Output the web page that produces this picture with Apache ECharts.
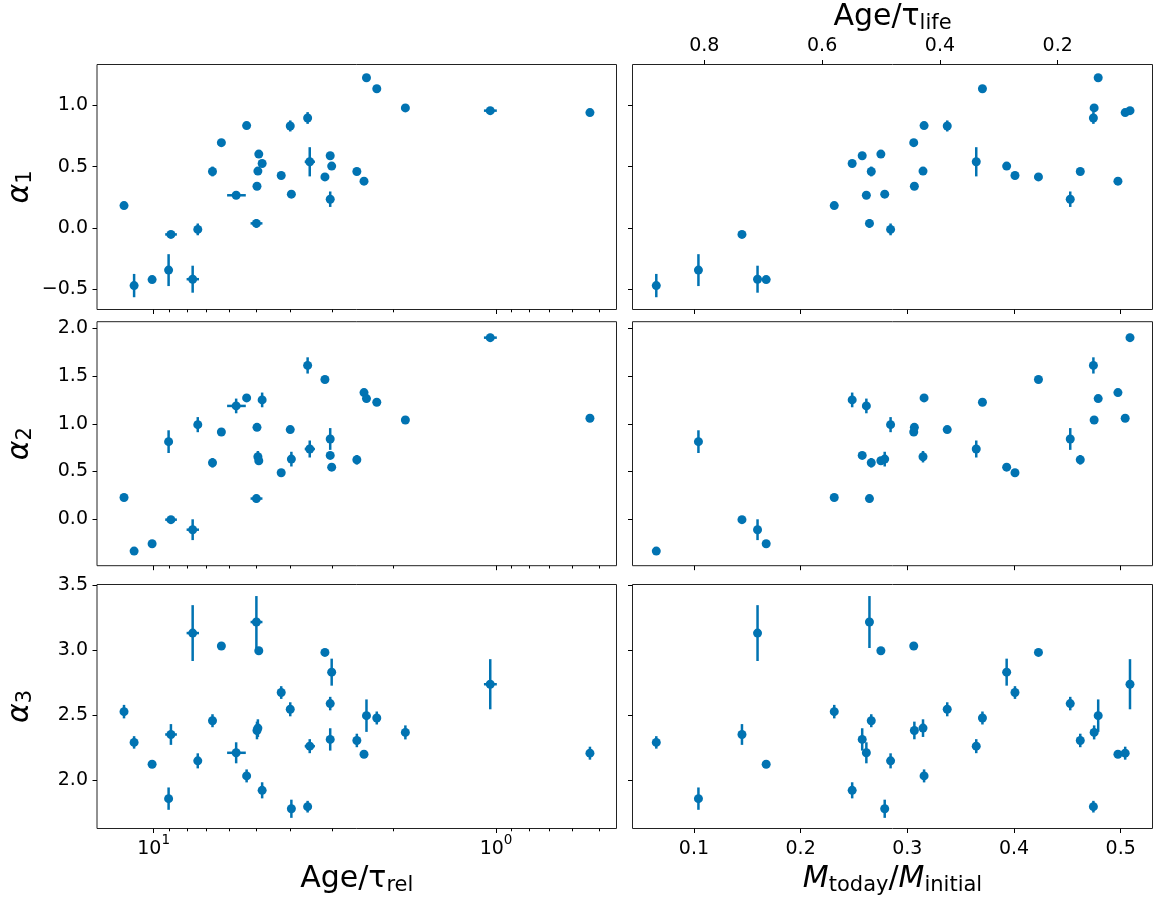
<!DOCTYPE html>
<html>
<head>
<meta charset="utf-8">
<script src="https://cdn.jsdelivr.net/npm/echarts@6/dist/echarts.min.js"></script>
<style>
html, body { margin: 0; padding: 0; background: #fff; }
#chart { width: 1157px; height: 897px; }
</style>
</head>
<body>
<div id="chart"></div>
<script>
// one entry per cluster, same order in every array
var ageRel = [12.2, 11.4, 10.1, 9.04, 8.9, 7.69, 7.43, 6.73, 6.34, 5.74, 5.35, 5.01, 4.99, 4.96, 4.93, 4.82,
	4.24, 3.99, 3.96, 3.55, 3.50, 3.16, 3.05, 3.05, 3.02, 2.55, 2.43, 2.39, 2.23, 1.84, 1.04, 0.532];
var ageRelErr = [0, 0, 0, 0, 0.35, 0.32, 0, 0, 0, 0.36, 0, 0.2, 0, 0, 0, 0,
	0, 0, 0, 0, 0.12, 0, 0, 0, 0, 0, 0, 0, 0, 0, 0.045, 0];
var mRatio = [0.2315, 0.0647, 0.1677, 0.1042, 0.145, 0.1596, 0.2843, 0.2662, 0.306, 0.2616, 0.3157, 0.2645, 0.3066, 0.3147, 0.2752, 0.2483,
	0.4009, 0.3374, 0.2788, 0.4744, 0.3646, 0.4229, 0.2577, 0.4527, 0.3931, 0.4621, 0.4974, 0.4789, 0.3704, 0.4751, 0.5087, 0.5042];

var alpha1 = [0.182, -0.470, -0.421, -0.344, -0.053, -0.418, -0.012, 0.460, 0.695, 0.266, 0.834, 0.037, 0.340, 0.463, 0.602, 0.525,
	0.427, 0.831, 0.275, 0.896, 0.539, 0.416, 0.588, 0.234, 0.504, 0.460, 0.381, 1.224, 1.134, 0.978, 0.956, 0.940];
var alpha1Err = [0.01, 0.095, 0.01, 0.13, 0.01, 0.11, 0.048, 0.04, 0.01, 0.02, 0.01, 0.035, 0.01, 0.02, 0.01, 0.01,
	0.01, 0.045, 0.01, 0.048, 0.119, 0.01, 0.01, 0.063, 0.01, 0.02, 0.01, 0.01, 0.01, 0.01, 0.015, 0.01];

var alpha2 = [0.228, -0.333, -0.256, 0.813, -0.004, -0.109, 0.991, 0.592, 0.914, 1.187, 1.271, 0.217, 0.963, 0.655, 0.613, 1.250,
	0.487, 0.939, 0.630, 1.611, 0.736, 1.464, 0.669, 0.841, 0.546, 0.623, 1.327, 1.264, 1.226, 1.040, 1.902, 1.058];
var alpha2Err = [0.01, 0.02, 0.01, 0.119, 0.02, 0.109, 0.079, 0.05, 0.01, 0.077, 0.01, 0.04, 0.02, 0.06, 0.01, 0.077,
	0.01, 0.03, 0.077, 0.085, 0.089, 0.01, 0.01, 0.114, 0.01, 0.05, 0.02, 0.01, 0.02, 0.01, 0.04, 0.01];

var alpha3 = [2.526, 2.289, 2.121, 1.856, 2.350, 3.131, 2.147, 2.456, 3.031, 2.209, 2.031, 3.216, 2.381, 2.399, 2.995, 1.920,
	2.673, 2.544, 1.778, 1.794, 2.260, 2.982, 2.312, 2.588, 2.830, 2.304, 2.198, 2.495, 2.477, 2.366, 2.737, 2.206];
var alpha3Err = [0.052, 0.048, 0.02, 0.086, 0.08, 0.215, 0.058, 0.05, 0.01, 0.081, 0.05, 0.2, 0.068, 0.068, 0.01, 0.062,
	0.049, 0.054, 0.07, 0.045, 0.054, 0.01, 0.086, 0.052, 0.104, 0.052, 0.02, 0.125, 0.05, 0.054, 0.193, 0.05];

// tick labels
var leftMajorTicks = [10, 1];
var leftMinorTicks = [9, 8, 7, 6, 5, 4, 3, 2, 0.9, 0.8, 0.7, 0.6, 0.5];
var mTicks = [0.1, 0.2, 0.3, 0.4, 0.5];
var lifeTicks = [0.8, 0.6, 0.4, 0.2];
var alpha1Ticks = [-0.5, 0, 0.5, 1];
var alpha2Ticks = [0, 0.5, 1, 1.5, 2];
var alpha3Ticks = [2, 2.5, 3, 3.5];

var blue = '#0173b2';
var font = 'DejaVu Sans';
var ink = '#000';

var rows = [
	{ top: 64.5, height: 245, y: alpha1, yErr: alpha1Err, min: -0.665, max: 1.332, ticks: alpha1Ticks, sub: '1' },
	{ top: 321.7, height: 244, y: alpha2, yErr: alpha2Err, min: -0.486, max: 2.069, ticks: alpha2Ticks, sub: '2' },
	{ top: 584.5, height: 244, y: alpha3, yErr: alpha3Err, min: 1.626, max: 3.505, ticks: alpha3Ticks, sub: '3' }
];

var subStyle = { fontFamily: font, fontSize: 21, lineHeight: 22, padding: [12, 0, 0, 0], color: ink };
var bigStyle = { fontFamily: font, fontSize: 30, lineHeight: 34, color: ink };
var mathStyle = { fontFamily: font, fontSize: 30, lineHeight: 34, fontStyle: 'italic', color: ink };
var nameRich = { n: bigStyle, m: mathStyle, s: subStyle };

var tickLine = { color: ink, width: 1 };
var noLine = { show: false, onZero: false };

function fmtTick(v) {
	return (Math.round(v * 10) / 10).toFixed(1).replace('-', '\u2212');
}

function errRender(params, api) {
	var x = api.value(0), y = api.value(1);
	var lo = api.coord([x, api.value(2)]);
	var hi = api.coord([x, api.value(3)]);
	var style = { stroke: blue, lineWidth: 2.5 };
	var kids = [{ type: 'line', shape: { x1: lo[0], y1: lo[1], x2: hi[0], y2: hi[1] }, style: style }];
	if (api.value(4) !== api.value(5)) {
		var l = api.coord([api.value(4), y]);
		var r = api.coord([api.value(5), y]);
		kids.push({ type: 'line', shape: { x1: l[0], y1: l[1], x2: r[0], y2: r[1] }, style: style });
	}
	return { type: 'group', children: kids };
}

function addPanel(series, xi, yi, xs, xErr, ys, yErr) {
	var errData = [], dots = [];
	for (var i = 0; i < xs.length; i++) {
		var xe = xErr ? xErr[i] : 0;
		errData.push([xs[i], ys[i], ys[i] - yErr[i], ys[i] + yErr[i], xs[i] - xe, xs[i] + xe]);
		dots.push([xs[i], ys[i]]);
	}
	series.push({
		type: 'custom', xAxisIndex: xi, yAxisIndex: yi, renderItem: errRender,
		encode: { x: [0, 4, 5], y: [1, 2, 3] }, data: errData, z: 2, silent: true
	});
	series.push({
		type: 'scatter', xAxisIndex: xi, yAxisIndex: yi, data: dots, symbol: 'circle', symbolSize: 9,
		itemStyle: { color: blue, opacity: 1 }, z: 3, silent: true
	});
}

var grid = [], xAxis = [], yAxis = [], series = [];

rows.forEach(function (row, r) {
	var last = r === rows.length - 1;

	// left column: Age / tau_rel, log scale, decreasing
	var gl = grid.length;
	grid.push({ left: 97, top: row.top, width: 519.5, height: row.height, show: true, borderColor: '#222', borderWidth: 1, outerBoundsMode: 'none' });
	var xMajor = xAxis.length;
	xAxis.push({
		type: 'log', logBase: 10, gridIndex: gl, position: 'bottom', min: 0.445, max: 14.63, inverse: true,
		axisLine: noLine, splitLine: { show: false },
		axisTick: { customValues: leftMajorTicks, length: 4.5, lineStyle: tickLine },
		axisLabel: {
			show: last, customValues: leftMajorTicks, margin: 20.5, verticalAlign: 'middle',
			formatter: function (v) { return '{b|10}{p|' + Math.round(Math.log10(v)) + '}'; },
			rich: {
				b: { fontFamily: font, fontSize: 19, lineHeight: 22, color: ink },
				p: { fontFamily: font, fontSize: 13.5, lineHeight: 14, padding: [0, 0, 18, 0], color: ink }
			}
		},
		name: last ? '{n|Age/\u03c4}{s|rel}' : '', nameLocation: 'middle', nameGap: 34, nameMoveOverlap: false,
		nameTextStyle: { rich: nameRich }
	});
	xAxis.push({
		type: 'log', logBase: 10, gridIndex: gl, position: 'bottom', min: 0.445, max: 14.63, inverse: true,
		axisLine: noLine, splitLine: { show: false },
		axisTick: { customValues: leftMinorTicks, length: 2.8, lineStyle: tickLine },
		axisLabel: { show: false }
	});
	var yl = yAxis.length;
	yAxis.push({
		type: 'value', gridIndex: gl, position: 'left', min: row.min, max: row.max,
		axisLine: noLine, splitLine: { show: false },
		axisTick: { customValues: row.ticks, length: 4.5, lineStyle: tickLine },
		axisLabel: { customValues: row.ticks, formatter: fmtTick, margin: 9, fontFamily: font, fontSize: 19, color: ink },
		name: '{a|\u03b1}{s|' + row.sub + '}', nameLocation: 'middle', nameRotate: 90, nameGap: 60, nameMoveOverlap: false,
		nameTextStyle: { rich: { a: mathStyle, s: subStyle } }
	});
	addPanel(series, xMajor, yl, ageRel, ageRelErr, row.y, row.yErr);

	// right column: M_today / M_initial
	var gr = grid.length;
	grid.push({ left: 632.5, top: row.top, width: 520, height: row.height, show: true, borderColor: '#222', borderWidth: 1, outerBoundsMode: 'none' });
	var xM = xAxis.length;
	xAxis.push({
		type: 'value', gridIndex: gr, position: 'bottom', min: 0.0424, max: 0.5298,
		axisLine: noLine, splitLine: { show: false },
		axisTick: { customValues: mTicks, length: 4.5, lineStyle: tickLine },
		axisLabel: {
			show: last, customValues: mTicks, formatter: fmtTick, margin: 20.5, verticalAlign: 'middle',
			fontFamily: font, fontSize: 19, color: ink
		},
		name: last ? '{m|M}{s|today}{n|/}{m|M}{s|initial}' : '', nameLocation: 'middle', nameGap: 34, nameMoveOverlap: false,
		nameTextStyle: { rich: nameRich }
	});
	if (r === 0) {
		xAxis.push({
			type: 'value', gridIndex: gr, position: 'top', min: 0.039, max: 0.922, inverse: true,
			axisLine: noLine, splitLine: { show: false },
			axisTick: { customValues: lifeTicks, length: 4.5, lineStyle: tickLine },
			axisLabel: {
				customValues: lifeTicks, formatter: fmtTick, margin: 18.5, verticalAlign: 'middle',
				fontFamily: font, fontSize: 19, color: ink
			},
			name: '{n|Age/\u03c4}{s|life}', nameLocation: 'middle', nameGap: 30, nameMoveOverlap: false,
			nameTextStyle: { rich: nameRich }
		});
	}
	var yr = yAxis.length;
	yAxis.push({
		type: 'value', gridIndex: gr, position: 'left', min: row.min, max: row.max,
		axisLine: noLine, splitLine: { show: false },
		axisTick: { customValues: row.ticks, length: 4.5, lineStyle: tickLine },
		axisLabel: { show: false }
	});
	addPanel(series, xM, yr, mRatio, null, row.y, row.yErr);
});

var myChart = echarts.init(document.getElementById('chart'));
myChart.setOption({
	animation: false,
	backgroundColor: '#fff',
	grid: grid,
	xAxis: xAxis,
	yAxis: yAxis,
	series: series
});
</script>
</body>
</html>
